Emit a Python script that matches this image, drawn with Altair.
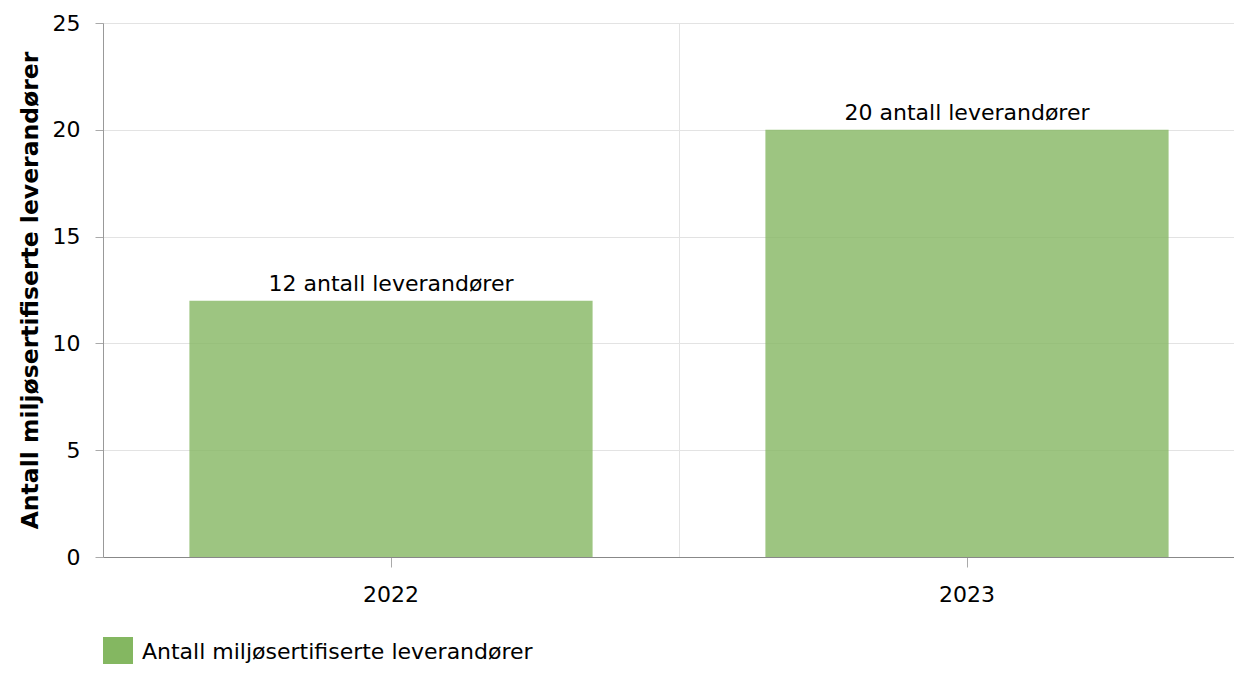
import altair as alt
import pandas as pd

years = ["2022", "2023"]
values = [12, 20]
labels = ["12 antall leverandører", "20 antall leverandører"]
series = "Antall miljøsertifiserte leverandører"

df = pd.DataFrame({"year": years, "value": values, "label": labels, "series": [series] * len(years)})

FONT = "DejaVu Sans"
FS = 22
xscale = alt.Scale(paddingInner=0.3, paddingOuter=0.15, range=[0, 1152])
xscale_grid = alt.Scale(paddingInner=0, paddingOuter=0, range=[0, 1152])
yscale = alt.Scale(domain=[0, 25])

bars = alt.Chart(df).mark_bar(opacity=0.8).encode(
    x=alt.X("year:N", scale=xscale, title=None,
            axis=alt.Axis(labelAngle=0, grid=False, domainColor="#888", tickColor="#aaa",
                          tickSize=10, labelPadding=17, labelFontSize=FS, labelColor="#000",
                          labelFont=FONT)),
    y=alt.Y("value:Q", scale=yscale, title="Antall miljøsertifiserte leverandører",
            axis=alt.Axis(values=[0, 5, 10, 15, 20, 25], domainColor="#999", tickColor="#aaa",
                          tickSize=8, labelPadding=15, labelFontSize=FS, labelColor="#000",
                          labelFont=FONT, gridColor="#e3e3e3", titleFont=FONT, titleFontSize=23.5,
                          titleFontWeight="bold", titleColor="#000", titlePadding=10)),
    color=alt.Color("series:N", scale=alt.Scale(range=["#84B761"]), title=None,
                    legend=alt.Legend(orient="none", legendX=0, legendY=614, symbolType="square",
                                      symbolSize=900, symbolStrokeWidth=0, labelFontSize=FS,
                                      labelFont=FONT, labelColor="#000", labelOffset=9, padding=0,
                                      labelLimit=0, symbolOpacity=1)),
)

text = alt.Chart(df).mark_text(dy=-10, baseline="alphabetic", fontSize=FS, font=FONT, color="#000").encode(
    x=alt.X("year:N", scale=xscale_grid, title=None,
            axis=alt.Axis(orient="top", labels=False, ticks=False, domain=False, grid=True,
                          tickBand="extent", gridColor="#e3e3e3")),
    y=alt.Y("value:Q", scale=yscale),
    text="label:N",
)

chart = alt.layer(bars, text).resolve_scale(x="independent").resolve_axis(x="independent").properties(
    width=1131, height=534,
    autosize=alt.AutoSizeParams(type="none"),
    padding={"top": 15, "left": 95, "right": 0, "bottom": 107},
).configure_view(stroke=None)

chart.save("out.html", embed_options={"renderer": "svg", "actions": False})
